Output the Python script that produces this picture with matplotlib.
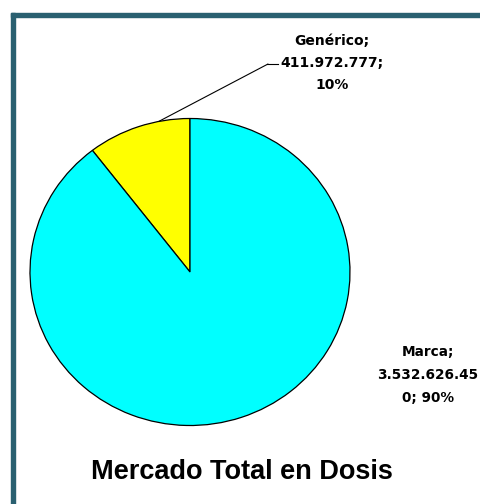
import matplotlib
matplotlib.use("Agg")
import matplotlib.pyplot as plt
from matplotlib.patches import Rectangle
import numpy as np

categories = ["Genérico", "Marca"]
values = [411972777, 3532626450]
value_labels = ["411.972.777", "3.532.626.45\n0"]
colors = ["#FFFF00", "#00FFFF"]
title = "Mercado Total en Dosis"

W, H = 481, 504
fig = plt.figure(figsize=(W / 100, H / 100), dpi=100)
fig.patch.set_facecolor("white")

# frame (dark teal border, extending beyond the right/bottom edges)
frame_col = "#2a6070"
fig.patches.append(Rectangle((11 / W, 0), 4.3 / W, (H - 12.5) / H,
                             transform=fig.transFigure, color=frame_col, zorder=0))
fig.patches.append(Rectangle((11 / W, (H - 16.7) / H), 1.0, 4.2 / H,
                             transform=fig.transFigure, color=frame_col, zorder=0))

cx, cy, rx, ry = 190, 272, 160, 153.5
ax = fig.add_axes([(cx - rx) / W, (H - cy - ry) / H, 2 * rx / W, 2 * ry / H])
wedges, _ = ax.pie(values, colors=colors, startangle=90, counterclock=True,
                   wedgeprops=dict(edgecolor="black", linewidth=0.9))
ax.set_xlim(-1, 1)
ax.set_ylim(-1, 1)
ax.set_aspect("auto")
ax.axis("off")

total = sum(values)
pcts = [round(v / total * 100) for v in values]

label_font = ["DejaVu Sans"]
title_font = ["Liberation Sans", "DejaVu Sans"]

# Genérico label with leader line
w0 = wedges[0]
mid = np.deg2rad(w0.theta1 + (w0.theta2 - w0.theta1) * 0.3)
ax.annotate("", xy=(np.cos(mid) * 1.0, np.sin(mid) * 1.0),
            xytext=(268 / W, 1 - 64 / H), textcoords="figure fraction",
            arrowprops=dict(arrowstyle="-", color="black", lw=0.8,
                            shrinkA=0, shrinkB=0))
fig.add_artist(plt.Line2D([267 / W, 278 / W], [1 - 64 / H, 1 - 64 / H],
                          color="black", lw=0.8, transform=fig.transFigure))
fig.text(332 / W, 1 - 63 / H, f"{categories[0]};\n{value_labels[0]};\n{pcts[0]}%",
         ha="center", va="center", fontsize=10, fontweight="bold",
         family=label_font, linespacing=1.75)

fig.text(428 / W, 1 - 375 / H, f"{categories[1]};\n{value_labels[1]}; {pcts[1]}%",
         ha="center", va="center", fontsize=9.8, fontweight="bold",
         family=label_font, linespacing=1.8)

fig.text(242 / W, 1 - 472 / H, title, ha="center", va="center",
         fontsize=19.5, fontweight="bold", family=title_font)

fig.savefig("out.png", dpi=100)
